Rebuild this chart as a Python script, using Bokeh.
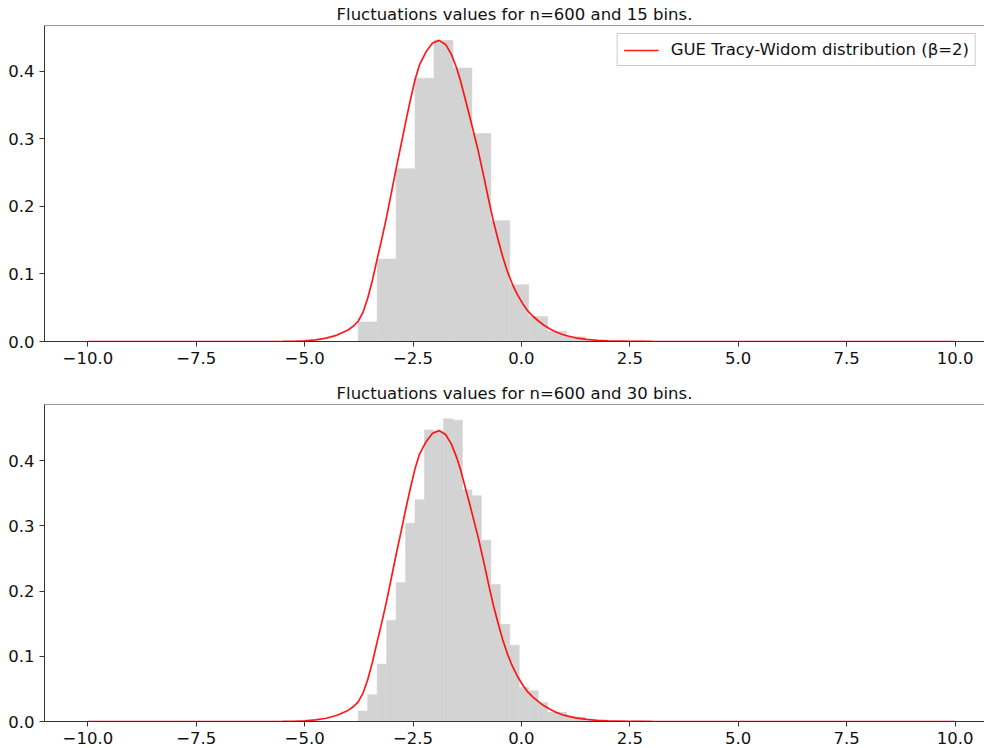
import numpy as np
from bokeh.plotting import figure
from bokeh.layouts import column
from bokeh.models import Range1d, FixedTicker, CustomJSTickFormatter, Legend, LegendItem, Span
from bokeh.embed import file_html
from bokeh.resources import INLINE

# ---- data ----
hist_lo = -3.765
hist_hi = 2.79
heights_15 = [0.029, 0.122, 0.256, 0.390, 0.446, 0.405, 0.308, 0.179, 0.084,
              0.037, 0.015, 0.007, 0.001, 0.0, 0.001]
heights_30 = [0.016, 0.041, 0.088, 0.155, 0.213, 0.304, 0.340, 0.447, 0.445,
              0.464, 0.462, 0.355, 0.346, 0.278, 0.210, 0.149, 0.117, 0.052,
              0.047, 0.029, 0.014, 0.014, 0.007, 0.007, 0.001, 0.001, 0.0,
              0.0, 0.0, 0.001]
tw_x = [-10.0, -6.0, -5.5, -5.25, -5.0, -4.75, -4.5, -4.25, -4.0, -3.88,
        -3.765, -3.65, -3.546, -3.44, -3.328, -3.22, -3.109, -3.0, -2.89,
        -2.78, -2.67, -2.56, -2.453, -2.35, -2.2, -2.05, -1.9, -1.75, -1.62,
        -1.495, -1.4, -1.3, -1.2, -1.096, -1.0, -0.87, -0.76, -0.65, -0.54,
        -0.43, -0.32, -0.203, -0.09, 0.03, 0.15, 0.272, 0.4, 0.52, 0.65,
        0.773, 0.9, 1.0, 1.25, 1.5, 1.75, 2.0, 2.5, 3.0, 3.5, 10.0]
tw_y = [0.0, 0.0, 0.0001, 0.0004, 0.0011, 0.0024, 0.005, 0.0095, 0.017, 0.0225,
        0.030, 0.044, 0.064, 0.090, 0.122, 0.152, 0.185, 0.220, 0.256,
        0.290, 0.325, 0.358, 0.388, 0.410, 0.429, 0.442, 0.446, 0.440, 0.426,
        0.405, 0.385, 0.360, 0.335, 0.308, 0.283, 0.245, 0.211, 0.179, 0.151,
        0.125, 0.103, 0.084, 0.069, 0.056, 0.045, 0.037, 0.030, 0.024, 0.019,
        0.0148, 0.0115, 0.0093, 0.0055, 0.0032, 0.0018, 0.001, 0.0003, 0.0001,
        0.0, 0.0]
x_ticks = [-10, -7.5, -5, -2.5, 0, 2.5, 5, 7.5, 10]
y_ticks = [0.0, 0.1, 0.2, 0.3, 0.4]
titles = ["Fluctuations values for n=600 and 15 bins.",
          "Fluctuations values for n=600 and 30 bins."]
y_max = [0.468, 0.486]
legend_label = "GUE Tracy-Widom distribution (\u03b2=2)"

FONT = "DejaVu Sans"
FSIZE = "16.5px"
fmt = CustomJSTickFormatter(code="return tick.toFixed(1).replace('-', '\u2212');")


def make_fig(title, ymax, h, btop, bbottom):
    p = figure(width=984, height=h, x_range=Range1d(-11, 10.68), y_range=Range1d(0, ymax),
               output_backend="svg", toolbar_location=None, title=title,
               min_border_left=44, min_border_right=0,
               min_border_top=btop, min_border_bottom=bbottom)
    p.grid.visible = False
    p.outline_line_color = None
    p.background_fill_color = "white"
    p.border_fill_color = "white"
    p.title.align = "center"
    p.title.text_font = FONT
    p.title.text_font_size = FSIZE
    p.title.text_font_style = "normal"
    p.title.text_color = "#111111"
    p.title.standoff = 4
    for ax, ticks in ((p.xaxis[0], x_ticks), (p.yaxis[0], y_ticks)):
        ax.ticker = FixedTicker(ticks=ticks, minor_ticks=[])
        ax.formatter = fmt
        ax.major_label_text_font = FONT
        ax.major_label_text_font_size = FSIZE
        ax.major_label_text_color = "#111111"
        ax.major_tick_out = 5
        ax.major_tick_in = 0
        ax.minor_tick_out = 0
        ax.minor_tick_in = 0
        ax.axis_line_color = "#333333"
        ax.major_tick_line_color = "#333333"
        ax.major_label_standoff = 5
    # top spine (the right spine lies outside the reference picture)
    p.add_layout(Span(location=ymax, dimension="width", line_color="#333333", line_width=1))
    return p


figs = []
for i, (heights, h, bt, bb) in enumerate(((heights_15, 372, 19, 31),
                                          (heights_30, 374, 32, 25))):
    n = len(heights)
    edges = np.linspace(hist_lo, hist_hi, n + 1)
    p = make_fig(titles[i], y_max[i], h, bt, bb)
    p.quad(left=edges[:-1], right=edges[1:], bottom=0, top=heights,
           fill_color="#d3d3d3", line_color="#d3d3d3", line_width=0.6)
    r = p.line(tw_x, tw_y, line_color="#ff0000", line_width=1.7, line_alpha=0.9)
    if i == 0:
        leg = Legend(items=[LegendItem(label=legend_label, renderers=[r])],
                     location="top_right")
        leg.label_text_font = FONT
        leg.label_text_font_size = FSIZE
        leg.label_text_color = "#111111"
        leg.border_line_color = "#cccccc"
        leg.border_line_alpha = 1.0
        leg.background_fill_alpha = 0.8
        leg.glyph_width = 35
        leg.glyph_height = 18
        leg.label_standoff = 12
        leg.padding = 6
        leg.margin = 8
        p.add_layout(leg, "center")
    figs.append(p)

layout = column(*figs, spacing=0)
open("out.html", "w").write(file_html(layout, INLINE))
